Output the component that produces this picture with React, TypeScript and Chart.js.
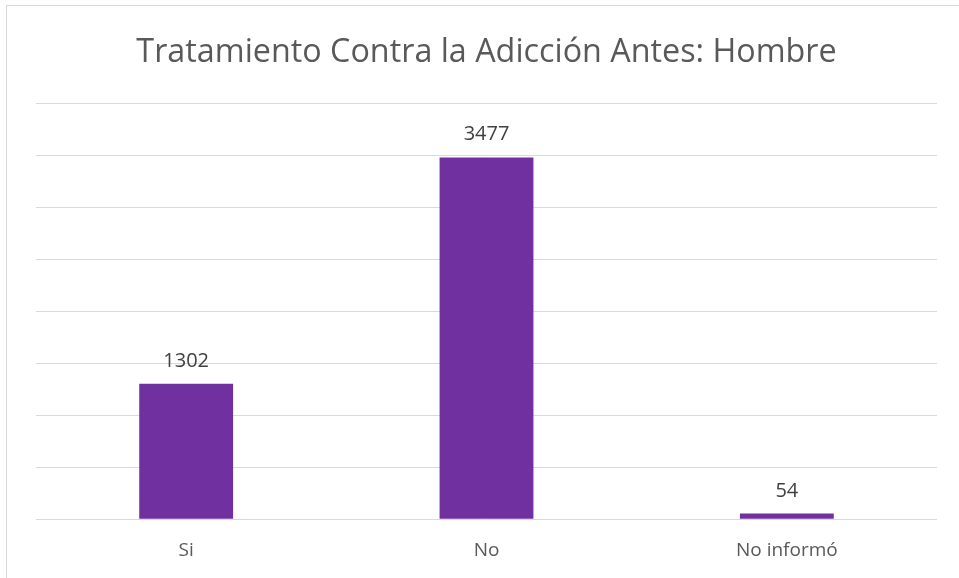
import React, { useEffect, useRef } from "react";
import { Chart, registerables } from "chart.js";

Chart.register(...registerables);

const categories = ["Si", "No", "No informó"];
const values = [1302, 3477, 54];
const titleText = "Tratamiento Contra la Adicción Antes: Hombre";
const yMin = 0;
const yMax = 4000;
const yStep = 500;

const FONT = "'Open Sans', 'Liberation Sans', sans-serif";

const overlayPlugin = {
  id: "overlay",
  afterDatasetsDraw(chart: any) {
    const ctx = chart.ctx;
    const meta = chart.getDatasetMeta(0);
    ctx.save();
    ctx.fillStyle = "#404040";
    ctx.font = `20px ${FONT}`;
    ctx.textAlign = "center";
    ctx.textBaseline = "alphabetic";
    meta.data.forEach((el: any, i: number) => {
      ctx.fillText(String(values[i]), el.x, el.y - 17);
    });
    const ca = chart.chartArea;
    ctx.fillStyle = "#595959";
    ctx.font = `32.3px ${FONT}`;
    ctx.fillText(titleText, (ca.left + ca.right) / 2, 62);
    ctx.restore();
  },
};

export default function App() {
  const ref = useRef<HTMLCanvasElement>(null);
  useEffect(() => {
    const chart = new Chart(ref.current!, {
      type: "bar",
      data: {
        labels: categories,
        datasets: [
          {
            data: values,
            backgroundColor: "#7030A0",
            barPercentage: 0.625,
            categoryPercentage: 0.5,
          },
        ],
      },
      options: {
        animation: false,
        responsive: false,
        maintainAspectRatio: false,
        layout: { padding: { left: 36, right: 22, top: 103, bottom: -4 } },
        plugins: { legend: { display: false }, tooltip: { enabled: false }, title: { display: false } },
        scales: {
          x: {
            grid: { display: false, drawTicks: false },
            border: { display: false },
            ticks: {
              color: "#595959",
              font: { family: FONT, size: 19 },
              padding: 20,
              autoSkip: false,
              maxRotation: 0,
            },
          },
          y: {
            min: yMin,
            max: yMax,
            ticks: { display: false, stepSize: yStep },
            grid: { color: "#d9d9d9", lineWidth: 1, drawTicks: false },
            border: { display: false },
          },
        },
      },
      plugins: [overlayPlugin],
    });
    return () => chart.destroy();
  }, []);
  return (
    <div style={{ position: "fixed", left: 0, top: 0, width: 959, height: 578, background: "#fff", overflow: "hidden" }}>
      <div
        style={{
          position: "absolute",
          left: 6,
          top: 5,
          width: 1000,
          height: 1000,
          border: "1.5px solid #d9d9d9",
          boxSizing: "border-box",
        }}
      />
      <canvas ref={ref} width={959} height={578} style={{ position: "absolute", left: 0, top: 0, display: "block" }} />
    </div>
  );
}
